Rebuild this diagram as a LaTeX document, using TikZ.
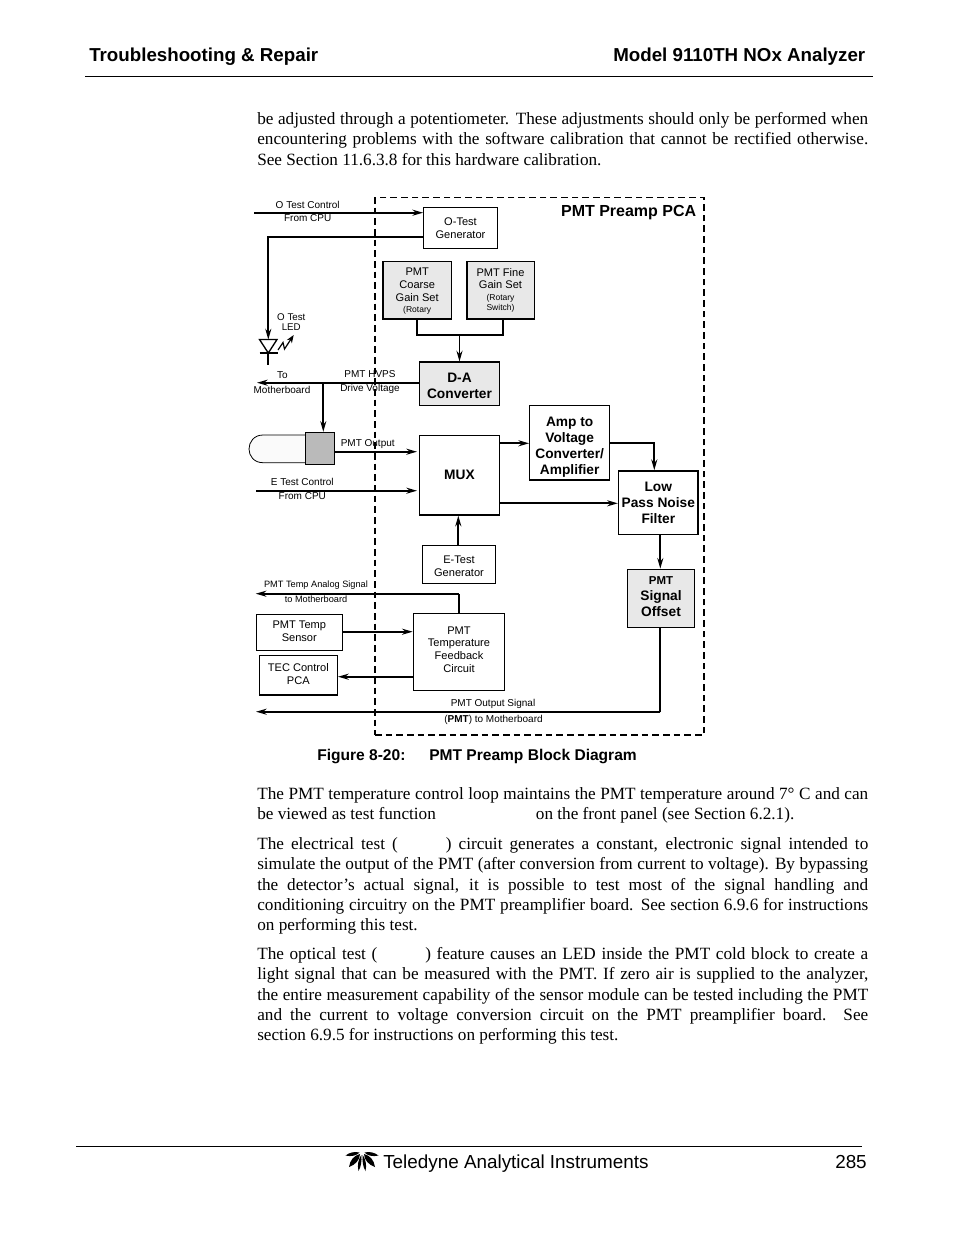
\documentclass[tikz,border=0pt]{standalone}
\usepackage{fontspec}
\setmainfont{Liberation Serif}
\newfontfamily\arialfont{Liberation Sans}
\usetikzlibrary{arrows.meta}
\newcommand{\fsz}[2]{\fontsize{#1}{#2}\selectfont}
% strut on a first line pushes a box text down, on a last line pushes it up
\newcommand{\pushdn}[1]{\rule{0pt}{#1pt}}
\newcommand{\pushup}[1]{\rule[-#1pt]{0pt}{#1pt}}
\tikzset{
  wh/.style 2 args={minimum width=#1*0.75pt, minimum height=#2*0.75pt},
  box/.style={draw, inner sep=0pt, align=center, line width=0.9pt, font=\arialfont\fsz{8.3}{9.6}},
  boldbox/.style={box, font=\arialfont\bfseries\fsz{10.3}{12}},
  setbox/.style={box, fill=black!9, line width=1.2pt},
  lab/.style={inner sep=0pt, font=\arialfont\fsz{7.5}{9}},
  sig/.style={line width=1.4pt, -{Stealth[length=8pt,width=4.5pt]}},
  wire/.style={line width=1.4pt},
  para/.style={inner sep=0pt, anchor=north west, text width=458.25pt, align=justify, font=\fsz{12.9}{15.3}},
  head/.style={inner sep=0pt, font=\arialfont\bfseries\fsz{14.05}{16}}
}
\begin{document}
\begin{tikzpicture}[x=0.75pt,y=-0.75pt]
\useasboundingbox (0,0) rectangle (954,1235);
\fill[white] (0,0) rectangle (954,1235);
% page header
\node[head, anchor=base west] (headl) at (89,61) {Troubleshooting \& Repair};
\node[head, anchor=base east] (headr) at (865.5,61) {Model 9110TH NOx Analyzer};
\draw[line width=1.1pt] (85,76.5) -- (873,76.5);
% text above the figure
\node[para] (top) at (257,112) {be adjusted through a potentiometer.  These adjustments should only be performed when\linebreak
encountering problems with the software calibration that cannot be rectified otherwise.\linebreak
See Section 11.6.3.8 for this hardware calibration.};
% board outline
\node[draw, dash pattern=on 5pt off 3pt, line width=0.9pt, wh={329}{537.3}] (pca) at (539.5,466.3) {};
\node[inner sep=0pt, anchor=base east, font=\arialfont\bfseries\fsz{12}{12}] (pcaname) at (696.5,216.5) {PMT Preamp PCA};
% blocks
\node[box, wh={73.6}{41}] (otest) at (460.5,227.8) {O-Test\\Generator};
\node[setbox, wh={68.3}{57.7}] (coarse) at (417.2,290.2) {\pushdn{7.5}PMT\\Coarse\\Gain Set\\[-1pt]{\fsz{6.4}{7}(Rotary}};
\node[setbox, wh={67.6}{57.7}] (fine) at (500.5,290.2) {PMT Fine\\Gain Set\\[-1pt]{\fsz{6.4}{7}(Rotary}\\[-2pt]{\fsz{6.4}{7}Switch)}};
\node[boldbox, fill=black!9, wh={79.6}{43.3}] (dac) at (459.5,383.7) {\pushdn{10.4}D-A\\Converter};
\node[boldbox, wh={79.6}{79.3}] (mux) at (459.5,475.4) {MUX\pushup{1.5}};
\node[boldbox, wh={80}{74.3}] (amp) at (569.7,442.8) {\pushdn{13.4}Amp to\\Voltage\\Converter/\\Amplifier};
\node[boldbox, line width=1.2pt, wh={79.3}{63.7}] (lowpass) at (658.3,502.8) {Low\\Pass Noise\\Filter};
\node[boldbox, fill=black!9, wh={67.7}{58}] (offset) at (661,598.3) {{\fsz{8.6}{10}PMT}\\Signal\\Offset\pushup{2.25}};
\node[box, wh={73.4}{38}] (etest) at (459,564.3) {\pushdn{8.2}E-Test\\Generator};
\node[box, wh={90.6}{76.6}] (feedback) at (459,652) {PMT\\Temperature\\Feedback\\Circuit\pushup{3.8}};
\node[box, wh={86}{36}] (sensor) at (299.3,632.3) {PMT Temp\\Sensor\pushup{2.25}};
\node[box, line width=1.1pt, wh={78}{39.7}] (tec) at (298.3,675.2) {TEC Control\\PCA\pushup{2.25}};
% PMT tube
\draw[line width=0.6pt, fill=black!2] (306,435) -- (263,435) .. controls (254,435) and (249,442) .. (249,449) .. controls (249,456) and (254,462.7) .. (263,462.7) -- (306,462.7);
\node[draw, fill=black!27, inner sep=0pt, line width=0.8pt, wh={29.4}{31.7}] (pmt) at (320,448.2) {};
% LED
\coordinate (ledtop) at (268.3,339.5);
\coordinate (ledtip) at (268.3,353);
\coordinate (ledend) at (268.3,365);
\draw[line width=1pt] (259.5,339.5) -- (277,339.5) -- (ledtip) -- cycle;
\draw[line width=1.4pt] (259.5,353) -- (277.5,353);
\draw[wire] (ledtip) -- (ledend);
\draw[line width=0.9pt, -{Stealth[length=6pt,width=4.5pt]}] (278,350) -- (283,342.5) -- (284.5,349) -- (293.7,335);
% free ends of the connectors
\coordinate (ocpu) at (254.3,212.7);
\coordinate (oturn) at (268.3,237);
\coordinate (gainjoin) at (459.5,335);
\coordinate (finedrop) at (503.3,335);
\coordinate (hvps) at (257,382.7);
\coordinate (hvpstap) at (323.3,382.7);
\coordinate (pmtout) at (334.7,451.7);
\coordinate (muxin) at (417,451.7);
\coordinate (ecpu) at (256,490.7);
\coordinate (muxine) at (417,490.7);
\coordinate (muxamp) at (499.3,443.3);
\coordinate (muxlow) at (499.3,503.3);
\coordinate (ampturn) at (654.3,443.3);
\coordinate (etestx) at (458.3,545.3);
\coordinate (filterx) at (660.3,534.7);
\coordinate (tempend) at (255.7,593.7);
\coordinate (tempturn) at (459.3,593.7);
\coordinate (sensorin) at (412.7,631.7);
\coordinate (tecout) at (413.7,676.7);
\coordinate (outturn) at (660.3,711.7);
\coordinate (outend) at (256,711.7);
% connectors
\draw[sig] (ocpu) -- (ocpu -| otest.west);
\draw[sig] (oturn -| otest.west) -- (oturn) -- (ledtop);
\draw[wire] (coarse.south) -- (coarse.south |- gainjoin) -- (finedrop) -- (finedrop |- fine.south);
\draw[sig] (gainjoin) -- (dac.north);
\draw[sig] (hvps -| dac.west) -- (hvps);
\draw[sig] (hvpstap) -- (hvpstap |- pmt.north);
\draw[sig] (pmtout) -- (muxin);
\draw[sig] (ecpu) -- (muxine);
\draw[sig] (muxamp) -- (muxamp -| amp.west);
\draw[sig] (muxamp -| amp.east) -- (ampturn) -- (ampturn |- lowpass.north);
\draw[sig] (muxlow) -- (muxlow -| lowpass.west);
\draw[sig] (etestx) -- (etestx |- mux.south);
\draw[sig] (filterx) -- (filterx |- offset.north);
\draw[wire] (offset.south -| outturn) -- (outturn);
\draw[sig] (outturn) -- (outend);
\draw[wire] (tempturn |- feedback.north) -- (tempturn);
\draw[sig] (tempturn) -- (tempend);
\draw[sig] (sensorin -| sensor.east) -- (sensorin);
\draw[sig] (tecout) -- (tecout -| tec.east);
% connector labels
\node[lab] (lbloc) at (307.7,204.7) {O Test Control};
\node[lab] (lblocpu) at (307.7,218.3) {From CPU};
\node[lab, align=center, font=\arialfont\fsz{7.3}{8}] (lblled) at (291.3,322) {O Test\\LED};
\node[lab] (lblto) at (282.3,375) {To};
\node[lab] (lblmb) at (282,389.5) {Motherboard};
\node[lab] (lblhvps) at (370,373.7) {PMT HVPS};
\node[lab] (lbldrive) at (370,389) {Drive Voltage};
\node[lab] (lblout) at (367.7,443.7) {PMT Output};
\node[lab] (lblec) at (302.3,481.5) {E Test Control};
\node[lab] (lblecpu) at (302.3,496) {From CPU};
\node[lab, font=\arialfont\fsz{6.9}{8}] (lbltemp) at (316,585) {PMT Temp Analog Signal};
\node[lab, font=\arialfont\fsz{6.9}{8}] (lbltempmb) at (316,599) {to Motherboard};
\node[lab] (lblsig) at (493,703.5) {PMT Output Signal};
\node[lab] (lblsigmb) at (493.5,719.5) {(\textbf{PMT}) to Motherboard};
% caption
\node[inner sep=0pt, anchor=base west, font=\arialfont\bfseries\fsz{11.67}{12}] (figno) at (317,760) {Figure 8-20:};
\node[inner sep=0pt, anchor=base west, font=\arialfont\bfseries\fsz{11.67}{12}] (figname) at (429,760) {PMT Preamp Block Diagram};
% text below the figure
\node[para] (pa) at (257,787) {The PMT temperature control loop maintains the PMT temperature around 7° C and can\linebreak
be viewed as test function\hspace{75pt}on the front panel (see Section 6.2.1).};
\node[para] (pb) at (257,837) {The electrical test (\hspace{36pt}) circuit generates a constant, electronic signal intended to\linebreak
simulate the output of the PMT (after conversion from current to voltage).  By bypassing\linebreak
the detector’s actual signal, it is possible to test most of the signal handling and\linebreak
conditioning circuitry on the PMT preamplifier board.  See section 6.9.6 for instructions\linebreak
on performing this test.};
\node[para] (pc) at (257,947) {The optical test (\hspace{36pt}) feature causes an LED inside the PMT cold block to create a\linebreak
light signal that can be measured with the PMT.  If zero air is supplied to the analyzer,\linebreak
the entire measurement capability of the sensor module can be tested including the PMT\linebreak
and the current to voltage conversion circuit on the PMT preamplifier board.  See\linebreak
section 6.9.5 for instructions on performing this test.};
% page footer
\draw[line width=0.8pt] (76,1146.5) -- (862,1146.5);
\fill (345.5,1155.5) .. controls (350,1152) and (355,1151.5) .. (359.5,1152.5) .. controls (357,1155.5) and (351,1157) .. (345.5,1155.5) -- cycle;
\fill (378.5,1155.5) .. controls (374,1152) and (369,1151.5) .. (364.5,1152.5) .. controls (367,1155.5) and (373,1157) .. (378.5,1155.5) -- cycle;
\fill (360,1154) .. controls (354,1155.5) and (350,1160) .. (349,1167) .. controls (355,1165) and (360,1160) .. (360,1154) -- cycle;
\fill (364,1154) .. controls (370,1155.5) and (374,1160) .. (375,1167) .. controls (369,1165) and (364,1160) .. (364,1154) -- cycle;
\fill (361.3,1155) .. controls (358.5,1159) and (357,1165) .. (358.5,1171) .. controls (361,1167) and (362,1161) .. (361.3,1155) -- cycle;
\fill (362.7,1155) .. controls (365.5,1159) and (367,1165) .. (365.5,1171) .. controls (363,1167) and (362,1161) .. (362.7,1155) -- cycle;
\node[inner sep=0pt, anchor=base west, font=\arialfont\fsz{14.15}{16}] (footl) at (383,1168) {Teledyne Analytical Instruments};
\node[inner sep=0pt, anchor=base east, font=\arialfont\fsz{14.15}{16}] (footr) at (867,1168) {285};
\end{tikzpicture}
\end{document}
